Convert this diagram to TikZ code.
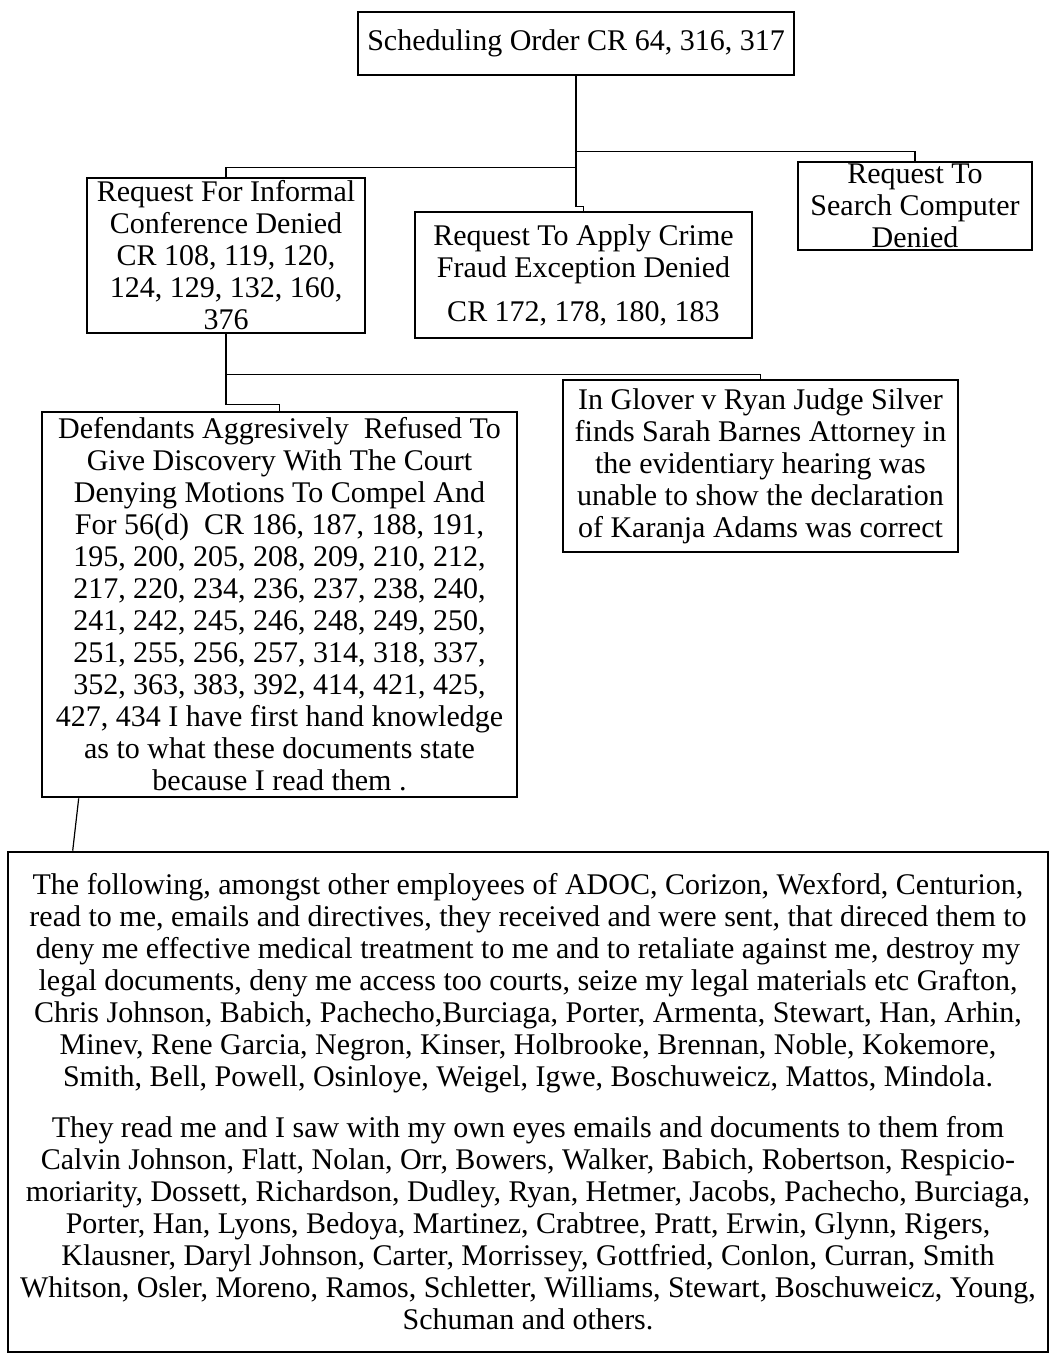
\documentclass[tikz,border=0pt]{standalone}
\usepackage{fontspec}
\setmainfont{Liberation Serif}
\usetikzlibrary{calc}

\begin{document}
\begin{tikzpicture}[x=0.5pt,y=-0.5pt,
        box/.style={draw, line width=1.3pt, align=center, inner sep=0pt, font=\fontsize{15}{16}\selectfont},
        link/.style={draw, line width=0.6pt}]
                \newcommand{\gap}{9.5pt}
                \useasboundingbox (0,0) rectangle (1049,1358);

                % Draw boxes
                \node[box, minimum width=218pt, minimum height=31.5pt] (order) at (576,43.5) {Scheduling Order CR 64, 316, 317};
                \node[box, minimum width=117pt, minimum height=44pt] (search) at (915,206) {Request To\\Search Computer\\Denied};
                \node[box, minimum width=139pt, minimum height=77.5pt] (informal) at (226,255.5) {Request For Informal\\Conference Denied\\CR 108, 119, 120,\\124, 129, 132, 160,\\376};
                \node[box, minimum width=168.5pt, minimum height=63pt] (crime) at (583.5,275) {Request To Apply Crime\\Fraud Exception Denied\\[6pt]CR 172, 178, 180, 183};
                \node[box, minimum width=197.5pt, minimum height=86pt] (glover) at (760.5,466) {In Glover v Ryan Judge Silver\\finds Sarah Barnes Attorney in\\the evidentiary hearing was\\unable to show the declaration\\of Karanja Adams was correct};
                \node[box, minimum width=237.5pt, minimum height=192.5pt] (defend) at (279.5,604.5) {Defendants Aggresively~ Refused To\\Give Discovery With The Court\\Denying Motions To Compel And\\For 56(d)~ CR 186, 187, 188, 191,\\195, 200, 205, 208, 209, 210, 212,\\217, 220, 234, 236, 237, 238, 240,\\241, 242, 245, 246, 248, 249, 250,\\251, 255, 256, 257, 314, 318, 337,\\352, 363, 383, 392, 414, 421, 425,\\427, 434 I have first hand knowledge\\as to what these documents state\\because I read them .};
                \node[box, minimum width=520pt, minimum height=250pt] (staff) at (528,1102) {The following, amongst other employees of ADOC, Corizon, Wexford, Centurion,\\read to me, emails and directives, they received and were sent, that direced them to\\deny me effective medical treatment to me and to retaliate against me, destroy my\\legal documents, deny me access too courts, seize my legal materials etc Grafton,\\Chris Johnson, Babich, Pachecho,Burciaga, Porter, Armenta, Stewart, Han, Arhin,\\Minev, Rene Garcia, Negron, Kinser, Holbrooke, Brennan, Noble, Kokemore,\\Smith, Bell, Powell, Osinloye, Weigel, Igwe, Boschuweicz, Mattos, Mindola.\\[\gap]They read me and I saw with my own eyes emails and documents to them from\\Calvin Johnson, Flatt, Nolan, Orr, Bowers, Walker, Babich, Robertson, Respicio-\\moriarity, Dossett, Richardson, Dudley, Ryan, Hetmer, Jacobs, Pachecho, Burciaga,\\Porter, Han, Lyons, Bedoya, Martinez, Crabtree, Pratt, Erwin, Glynn, Rigers,\\Klausner, Daryl Johnson, Carter, Morrissey, Gottfried, Conlon, Curran, Smith\\Whitson, Osler, Moreno, Ramos, Schletter, Williams, Stewart, Boschuweicz, Young,\\Schuman and others.};

                % Draw connectors
                \draw[link] (order.south) -- ++(0,75) -| (search.north);
                \draw[link] (order.south) -- ++(0,91) -| (informal.north);
                \draw[link] (order.south) -- ++(0,130) -| (crime.north);
                \draw[link] (informal.south) -- ++(0,40) -| (glover.north);
                \draw[link] (informal.south) -- ++(0,70) -| (defend.north);
                \draw[link] ($(defend.south west)+(38,0)$) -- ($(staff.north west)+(66,0)$);
            \end{tikzpicture}
\end{document}
